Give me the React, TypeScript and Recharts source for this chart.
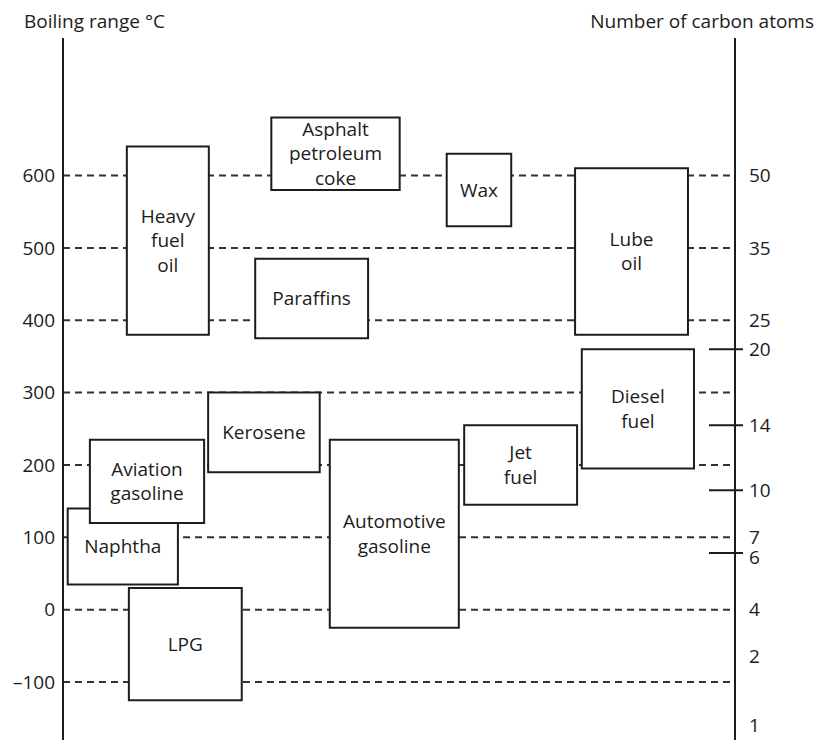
import { ComposedChart, XAxis, YAxis, ReferenceArea, ReferenceLine, Scatter } from 'recharts'

// boiling range axis (°C)
const tempTicks = [-100, 0, 100, 200, 300, 400, 500, 600]
const guideTemps = [600, 500, 400, 300, 200, 100, 0, -100]

// number of carbon atoms, placed at their boiling temperature
const carbonCounts = [50, 35, 25, 20, 14, 10, 7, 6, 4, 2, 1]
const carbonTemps = [600, 500, 400, 360, 255, 165, 100, 73, 0, -65, -160]
const carbonMarked = [20, 14, 10, 6]

// products: label, boiling range, column span (0..100 across the chart)
const productNames = [
  'Heavy\nfuel\noil',
  'Asphalt\npetroleum\ncoke',
  'Wax',
  'Paraffins',
  'Lube\noil',
  'Diesel\nfuel',
  'Kerosene',
  'Naphtha',
  'Aviation\ngasoline',
  'LPG',
  'Automotive\ngasoline',
  'Jet\nfuel',
]
const productLow = [380, 580, 530, 375, 380, 195, 190, 35, 120, -125, -25, 145]
const productHigh = [640, 680, 630, 485, 610, 360, 300, 140, 235, 30, 235, 255]
const productFrom = [9.5, 31.0, 57.1, 28.6, 76.2, 77.2, 21.6, 0.7, 4.0, 9.8, 39.7, 59.7]
const productTo = [21.7, 50.1, 66.7, 45.4, 93.0, 93.9, 38.2, 17.1, 21.0, 26.6, 58.9, 76.5]

const FONT = '"Open Sans", sans-serif'
const INK = '#1c1c1c'
const FS = 19

const boxes = productNames.map((name, i) => ({
  name,
  x1: productFrom[i],
  x2: productTo[i],
  y1: productLow[i],
  y2: productHigh[i],
}))

const labelPoints = boxes.map((b) => ({
  x: (b.x1 + b.x2) / 2,
  y: (b.y1 + b.y2) / 2,
  name: b.name,
}))

const carbonPoints = carbonTemps.map((t) => ({ x: 100, y: t }))

// eslint-disable-next-line @typescript-eslint/no-explicit-any
function BoxText(props: any) {
  const { cx, cy, payload } = props
  const lines: string[] = payload.name.split('\n')
  const lh = 24.5
  const start = cy - ((lines.length - 1) * lh) / 2
  return (
    <text x={cx} textAnchor="middle" fontSize={FS} fontFamily={FONT} fill={INK}>
      {lines.map((l, i) => (
        <tspan key={i} x={cx} y={start + i * lh} dy="0.35em">
          {l}
        </tspan>
      ))}
    </text>
  )
}

function NoMark() {
  return <g />
}

// eslint-disable-next-line @typescript-eslint/no-explicit-any
function CarbonTick(props: any) {
  const { x, y, payload } = props
  const idx = carbonTemps.indexOf(payload.value)
  const n = carbonCounts[idx]
  const axisX = x - 14
  return (
    <g>
      {carbonMarked.includes(n) && (
        <line x1={axisX - 26} x2={axisX + 8} y1={n === 6 ? y - 4 : y} y2={n === 6 ? y - 4 : y} stroke={INK} strokeWidth={2} />
      )}
      <text x={x} y={y} dy="0.35em" textAnchor="start" fontSize={FS} fontFamily={FONT} fill={INK}>
        {n}
      </text>
    </g>
  )
}

export default function App() {
  return (
    <div style={{ position: 'absolute', left: 0, top: 0, width: 816, height: 744, fontFamily: FONT, background: '#fff' }}>
      <div style={{ position: 'absolute', left: 24, top: 12, fontSize: FS, lineHeight: '19px', color: INK }}>
        Boiling range °C
      </div>
      <div style={{ position: 'absolute', right: 2, top: 12, fontSize: FS, lineHeight: '19px', color: INK }}>
        Number of carbon atoms
      </div>
      <ComposedChart width={816} height={744} margin={{ top: 38, right: 0, bottom: 4, left: 0 }}>
        <XAxis xAxisId={0} type="number" dataKey="x" domain={[0, 100]} hide />
        <YAxis
          yAxisId="left"
          type="number"
          dataKey="y"
          domain={[-180, 790]}
          ticks={tempTicks}
          interval={0}
          width={63}
          tickSize={0}
          tickMargin={8}
          tickLine={false}
          axisLine={{ stroke: INK, strokeWidth: 2 }}
          tick={{ fill: INK, fontSize: FS, fontFamily: FONT }}
          tickFormatter={(v: number) => (v < 0 ? `\u2013${Math.abs(v)}` : `${v}`)}
        />
        <YAxis
          yAxisId="right"
          orientation="right"
          type="number"
          dataKey="y"
          domain={[-180, 790]}
          ticks={carbonTemps}
          interval={0}
          width={81}
          tickSize={0}
          tickMargin={14}
          tickLine={false}
          axisLine={{ stroke: INK, strokeWidth: 2 }}
          tick={<CarbonTick />}
        />
        {guideTemps.map((t) => (
          <ReferenceLine
            key={`g${t}`}
            yAxisId="left"
            y={t}
            stroke="#333"
            strokeWidth={2}
            strokeDasharray="7 5"
            zIndex={50}
          />
        ))}
        {boxes.map((b) => (
          <ReferenceArea
            key={b.name}
            yAxisId="left"
            x1={b.x1}
            x2={b.x2}
            y1={b.y1}
            y2={b.y2}
            fill="#fff"
            fillOpacity={1}
            stroke={INK}
            strokeWidth={2}
            ifOverflow="visible"
            zIndex={100}
          />
        ))}
        <Scatter
          yAxisId="right"
          data={carbonPoints}
          dataKey="y"
          shape={<NoMark />}
          isAnimationActive={false}
        />
        <Scatter
          yAxisId="left"
          data={labelPoints}
          dataKey="y"
          shape={<BoxText />}
          isAnimationActive={false}
        />
      </ComposedChart>
    </div>
  )
}
